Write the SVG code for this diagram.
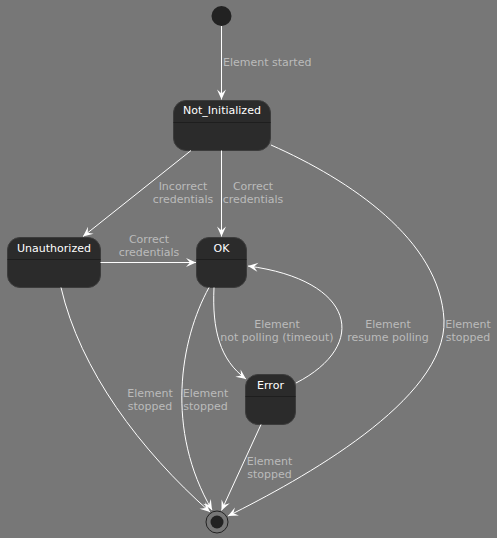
<svg xmlns="http://www.w3.org/2000/svg" width="497" height="538" viewBox="0 0 497 538">
<style>
.node rect{fill:#2b2b2b;stroke:#3c3c3c;stroke-width:1}
.node line{stroke:#1e1e1e;stroke-width:1}
.title{font-family:"DejaVu Sans",sans-serif;font-size:11px;fill:#ffffff;text-anchor:middle}
.edge{fill:none;stroke:#ffffff;stroke-width:1;marker-end:url(#arr)}
.lbl{font-family:"DejaVu Sans",sans-serif;font-size:11px;fill:#bbbbbb;text-anchor:middle}
</style>
<defs>
<marker id="arr" markerUnits="userSpaceOnUse" markerWidth="13" markerHeight="11" viewBox="-11 -5.5 13 11" refX="0" refY="0" orient="auto">
<path d="M0,0 L-10,-4.5 L-6,0 L-10,4.5 Z" fill="#ffffff"/>
</marker>
</defs>
<rect x="0" y="0" width="497" height="538" fill="#777777"/>
<g id="start"><circle cx="221.5" cy="16" r="10" fill="#222222"/></g>
<g id="end"><circle cx="217" cy="522" r="11" fill="none" stroke="#222222" stroke-width="1"/><circle cx="217" cy="522" r="6.5" fill="#222222"/></g>
<g id="Not_Initialized" class="node"><rect x="173.5" y="100.5" width="97" height="50" rx="12.5"/><line x1="173.5" y1="122.5" x2="270.5" y2="122.5"/><text class="title" x="222" y="114">Not_Initialized</text></g>
<g id="Unauthorized" class="node"><rect x="7.5" y="237.5" width="93" height="50" rx="12.5"/><line x1="7.5" y1="259.5" x2="100.5" y2="259.5"/><text class="title" x="54" y="252">Unauthorized</text></g>
<g id="OK" class="node"><rect x="196.5" y="237.5" width="50" height="50" rx="12.5"/><line x1="196.5" y1="259.5" x2="246.5" y2="259.5"/><text class="title" x="221.5" y="252">OK</text></g>
<g id="Error" class="node"><rect x="245.5" y="374.5" width="50" height="50" rx="12.5"/><line x1="245.5" y1="396.5" x2="295.5" y2="396.5"/><text class="title" x="270.5" y="389">Error</text></g>
<g id="connectors">
<path class="edge" d="M221.5,26 L221.5,99.5"/>
<path class="edge" d="M191,150.5 L83,236.5"/>
<path class="edge" d="M221.5,150.5 L221.5,236.5"/>
<path class="edge" d="M100.5,262.5 L196,262.5"/>
<path class="edge" d="M271,145 C350,180 440,240 444,320 C447,400 300,480 228,516"/>
<path class="edge" d="M61,287.5 C80,370 140,450 210,512"/>
<path class="edge" d="M209,287.5 C180,340 165,430 212,510"/>
<path class="edge" d="M214,287.5 C212,330 220,360 246,379"/>
<path class="edge" d="M296,383 C370,345 355,280 248,266"/>
<path class="edge" d="M261,424.5 L221.5,510.5"/>
<text class="lbl" x="223" y="66" style="text-anchor:start">Element started</text>
<text class="lbl" x="183" y="190">Incorrect</text><text class="lbl" x="183" y="203">credentials</text>
<text class="lbl" x="253" y="190">Correct</text><text class="lbl" x="253" y="203">credentials</text>
<text class="lbl" x="149" y="243">Correct</text><text class="lbl" x="149" y="256">credentials</text>
<text class="lbl" x="150" y="397">Element</text><text class="lbl" x="150" y="410">stopped</text>
<text class="lbl" x="205.5" y="397">Element</text><text class="lbl" x="205.5" y="410">stopped</text>
<text class="lbl" x="277" y="328">Element</text><text class="lbl" x="277" y="341">not polling (timeout)</text>
<text class="lbl" x="388" y="328">Element</text><text class="lbl" x="388" y="341">resume polling</text>
<text class="lbl" x="468" y="328">Element</text><text class="lbl" x="468" y="341">stopped</text>
<text class="lbl" x="269.5" y="465">Element</text><text class="lbl" x="269.5" y="478">stopped</text>
</g>
</svg>
